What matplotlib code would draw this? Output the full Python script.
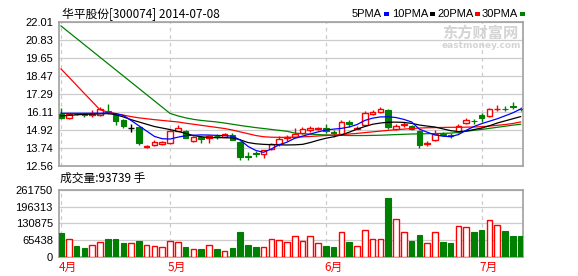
import numpy as np
import matplotlib
matplotlib.use("Agg")
import matplotlib.pyplot as plt
from matplotlib.patches import Rectangle

plt.rcParams["font.family"] = ["Noto Sans CJK SC", "DejaVu Sans"]

# daily candles, 2014-04 .. 2014-07-08
opens = [15.99, 15.73, 16.00, 15.97, 15.92, 15.88, 16.17, 15.91, 15.58, 15.03,
         15.14, 13.80, 13.94, 13.98, 14.05, 14.88, 14.86, 14.18, 14.48, 14.40,
         14.55, 14.46, 14.62, 14.16, 13.20, 13.40, 13.33, 13.68, 13.98, 14.42,
         14.48, 14.71, 14.95, 15.00, 15.08, 14.78, 14.64, 15.47, 15.02, 15.25,
         15.95, 16.12, 16.23, 14.99, 15.23, 15.19, 14.86, 14.02, 14.25, 14.66,
         14.58, 14.77, 15.36, 15.53, 15.91, 15.86, 16.28, 16.33, 16.50, 16.32]
closes = [15.69, 15.95, 15.95, 15.93, 15.96, 16.33, 16.08, 15.51, 15.21, 15.03,
          14.05, 13.85, 14.13, 14.13, 14.86, 15.03, 14.42, 14.48, 14.31, 14.50,
          14.50, 14.64, 14.26, 13.17, 13.15, 13.36, 13.59, 13.98, 14.33, 14.48,
          14.66, 14.99, 15.05, 15.03, 14.86, 14.73, 15.47, 15.30, 15.06, 16.02,
          16.12, 16.30, 15.14, 15.21, 15.30, 14.99, 13.94, 14.06, 14.64, 14.62,
          14.54, 15.21, 15.56, 15.50, 15.69, 16.30, 16.33, 16.29, 16.40, 16.28]
highs = [16.35, 16.00, 16.05, 16.04, 16.23, 16.40, 16.61, 16.03, 15.65, 15.30,
         15.14, 13.97, 14.25, 14.20, 14.90, 15.25, 14.90, 14.50, 14.50, 14.62,
         14.65, 14.70, 14.75, 14.18, 13.45, 13.55, 13.62, 14.10, 14.56, 14.62,
         15.03, 15.10, 15.20, 15.15, 15.30, 14.90, 15.60, 15.58, 15.20, 16.17,
         16.25, 16.45, 16.30, 15.30, 15.45, 15.25, 14.90, 14.20, 14.90, 14.80,
         14.70, 15.30, 15.70, 15.66, 16.03, 16.38, 16.56, 16.50, 16.78, 16.40]
lows = [15.64, 15.67, 15.90, 15.75, 15.79, 15.85, 16.00, 15.25, 15.03, 14.77,
        13.94, 13.72, 13.90, 13.95, 14.02, 14.85, 14.40, 14.15, 14.05, 14.10,
        14.35, 14.44, 14.24, 12.93, 12.93, 13.17, 13.10, 13.62, 13.90, 14.20,
        14.45, 14.68, 14.82, 14.90, 14.70, 14.45, 14.60, 15.15, 14.98, 15.22,
        15.90, 16.05, 15.00, 14.95, 15.10, 14.95, 13.72, 13.88, 14.20, 14.50,
        14.40, 14.70, 15.30, 15.30, 15.47, 15.75, 16.14, 16.14, 16.30, 16.20]
volume = [94600, 68700, 42800, 35000, 46700, 58300, 70000, 70000, 55700, 54400,
          62200, 45400, 42800, 38900, 62200, 58300, 38900, 31100, 31100, 45400,
          31100, 23300, 35000, 97200, 46700, 38900, 38900, 68700, 64800, 59500,
          81600, 62200, 81600, 54400, 42800, 38900, 97200, 58300, 42800, 105000,
          70000, 70000, 229400, 147700, 97200, 62200, 85500, 54400, 97200, 58300,
          54400, 120500, 115300, 97200, 105000, 143900, 124400, 101100, 81600, 81600]

ma5 = [16.02, 16.02, 16.02, 16.02, 16.02, 16.03, 16.04, 16.00, 15.88, 15.55,
       15.20, 14.85, 14.50, 14.35, 14.33, 14.45, 14.55, 14.58, 14.60, 14.59,
       14.57, 14.55, 14.52, 14.27, 13.85, 13.58, 13.46, 13.68, 13.95, 14.12,
       14.38, 14.52, 14.66, 14.80, 14.92, 14.98, 15.03, 15.12, 15.28, 15.55,
       15.70, 15.78, 15.79, 15.74, 15.62, 15.45, 14.98, 14.78, 14.60, 14.52,
       14.48, 14.62, 14.90, 15.15, 15.34, 15.50, 15.66, 15.85, 16.05, 16.30]
ma10 = [15.85, 15.88, 15.92, 15.95, 15.97, 15.98, 16.00, 15.93, 15.78, 15.60,
        15.45, 15.30, 15.15, 15.05, 14.95, 14.83, 14.70, 14.56, 14.48, 14.43,
        14.42, 14.42, 14.40, 14.28, 14.10, 14.02, 13.98, 13.96, 13.95, 13.94,
        13.95, 13.98, 14.10, 14.25, 14.38, 14.48, 14.60, 14.78, 14.98, 15.15,
        15.30, 15.38, 15.43, 15.44, 15.42, 15.36, 15.25, 15.18, 15.12, 15.00,
        14.88, 14.82, 14.85, 14.95, 15.05, 15.20, 15.38, 15.52, 15.66, 15.80]
ma20 = [18.93, 18.40, 17.86, 17.32, 16.79, 16.25, 16.10, 16.00, 15.90, 15.80,
        15.72, 15.66, 15.60, 15.55, 15.50, 15.45, 15.37, 15.30, 15.23, 15.16,
        15.09, 15.02, 14.92, 14.80, 14.68, 14.56, 14.48, 14.45, 14.44, 14.44,
        14.45, 14.47, 14.50, 14.53, 14.56, 14.59, 14.62, 14.66, 14.70, 14.75,
        14.80, 14.85, 14.90, 14.94, 14.98, 15.02, 15.05, 15.07, 15.08, 15.09,
        15.10, 15.10, 15.11, 15.12, 15.14, 15.18, 15.23, 15.28, 15.35, 15.45]
ma30 = [21.75, 21.34, 20.93, 20.52, 20.11, 19.70, 19.29, 18.88, 18.47, 18.06,
        17.65, 17.24, 16.83, 16.42, 16.01, 15.85, 15.72, 15.62, 15.55, 15.50,
        15.45, 15.38, 15.30, 15.22, 15.15, 15.08, 15.02, 14.96, 14.90, 14.84,
        14.72, 14.68, 14.65, 14.62, 14.60, 14.58, 14.57, 14.56, 14.56, 14.56,
        14.57, 14.58, 14.60, 14.62, 14.64, 14.66, 14.67, 14.68, 14.69, 14.70,
        14.72, 14.76, 14.84, 14.90, 14.96, 15.03, 15.10, 15.17, 15.24, 15.30]

month_idx = [0, 14, 34, 54]
month_labels = ["4月", "5月", "6月", "7月"]
price_ticks = [12.56, 13.74, 14.92, 16.11, 17.29, 18.47, 19.65, 20.83, 22.01]
vol_ticks = [0, 65438, 130875, 196313, 261750]

W, H = 578, 276
RED, GREEN, BLUE = "#ff0000", "#008000", "#0000ff"
GRID, FRAME = "#cccccc", "#a0a0a0"
NUMFONT = "Liberation Sans"

fig = plt.figure(figsize=(W / 100, H / 100), dpi=100)


def px_axes(l, t, r, b):
    return fig.add_axes([l / W, 1 - b / H, (r - l) / W, (b - t) / H])


ax = px_axes(58.5, 22, 522.5, 166)
axv = px_axes(58.5, 189.7, 522.5, 257)

x = np.arange(len(opens))
o, c, hi, lo = map(np.array, (opens, closes, highs, lows))
up = c > o
flat = c == o
down = c < o
bw = 0.72

for a in (ax, axv):
    a.set_xlim(-0.32, len(x) - 1 + 0.24)
    for s in a.spines.values():
        s.set_color(FRAME)
        s.set_linewidth(1.2)
    for m in month_idx:
        a.axvline(m, color=GRID, lw=0.9, ls=(0, (3, 3)), zorder=0)
    a.tick_params(axis="both", length=0, labelsize=8, pad=4)
    a.set_xticks([])

# price panel
ax.set_ylim(price_ticks[0], price_ticks[-1])
ax.set_yticks(price_ticks)
ax.set_yticklabels([f"{t:.2f}" for t in price_ticks], family=NUMFONT)
ax.grid(axis="y", color=GRID, lw=0.9)
ax.set_axisbelow(True)

# green (down) candles: full wick behind filled body
ax.vlines(x[down], lo[down], hi[down], color=GREEN, lw=1, zorder=2)
ax.bar(x[down], (o - c)[down], bottom=c[down], width=bw,
       color=GREEN, edgecolor=GREEN, lw=0.8, zorder=3)
# red (up) candles: hollow body, wicks outside it
ax.vlines(x[up], c[up], hi[up], color=RED, lw=1, zorder=2)
ax.vlines(x[up], lo[up], o[up], color=RED, lw=1, zorder=2)
ax.bar(x[up], np.maximum((c - o)[up], 0.04), bottom=o[up], width=bw,
       facecolor="white", edgecolor=RED, lw=1, zorder=3)
# doji
ax.vlines(x[flat], lo[flat], hi[flat], color="black", lw=1, zorder=3)
ax.hlines(c[flat], x[flat] - bw / 2, x[flat] + bw / 2, color="black", lw=1, zorder=3)

ax.plot(x, ma30, color=GREEN, lw=0.9, zorder=4)
ax.plot(x, ma20, color=RED, lw=0.9, zorder=4)
ax.plot(x, ma10, color="black", lw=0.9, zorder=4)
ax.plot(x, ma5, color=BLUE, lw=0.9, zorder=4)

# volume panel
vol = np.array(volume)
vup = ~down
axv.set_ylim(0, vol_ticks[-1])
axv.set_yticks(vol_ticks)
axv.set_yticklabels([str(v) for v in vol_ticks], family=NUMFONT)
axv.grid(axis="y", color=GRID, lw=0.9)
axv.set_axisbelow(True)
axv.bar(x[down], vol[down], width=bw, color=GREEN, edgecolor=GREEN, lw=0.8, zorder=3)
axv.bar(x[vup], vol[vup], width=bw, facecolor="white", edgecolor=RED, lw=1, zorder=3)

for m, lab in zip(month_idx, month_labels):
    axv.text(m - 0.25, -0.06, lab, transform=axv.get_xaxis_transform(),
             color=RED, fontsize=8.5, ha="left", va="top")

# header texts
fig.text(62 / W, 1 - 14 / H, "华平股份[300074] 2014-07-08", fontsize=8.5,
         ha="left", va="center")
fig.text(60 / W, 1 - 178 / H, f"成交量:{93739} 手", fontsize=8.5,
         ha="left", va="center")

legend = [("5PMA", BLUE, 352), ("10PMA", "black", 392),
          ("20PMA", RED, 437), ("30PMA", GREEN, 482)]
for name, col, lx in legend:
    t = fig.text(lx / W, 1 - 14 / H, name, fontsize=8, ha="left", va="center",
                 family=NUMFONT)
    fig.canvas.draw()
    bb = t.get_window_extent()
    fig.add_artist(Rectangle(((bb.x1 + 2) / W, 1 - 15.5 / H), 5 / W, 3 / H,
                             transform=fig.transFigure, color=col, lw=0))

# watermark
fig.text(480 / W, 1 - 33 / H, "东方财富网", fontsize=11, color="#d4d4d4",
         ha="center", va="center", weight="bold")
fig.text(481 / W, 1 - 46 / H, "eastmoney.com", fontsize=6.5, color="#d4d4d4",
         ha="center", va="center", weight="bold", family="DejaVu Sans")

fig.savefig("out.png", dpi=100, facecolor="white")
